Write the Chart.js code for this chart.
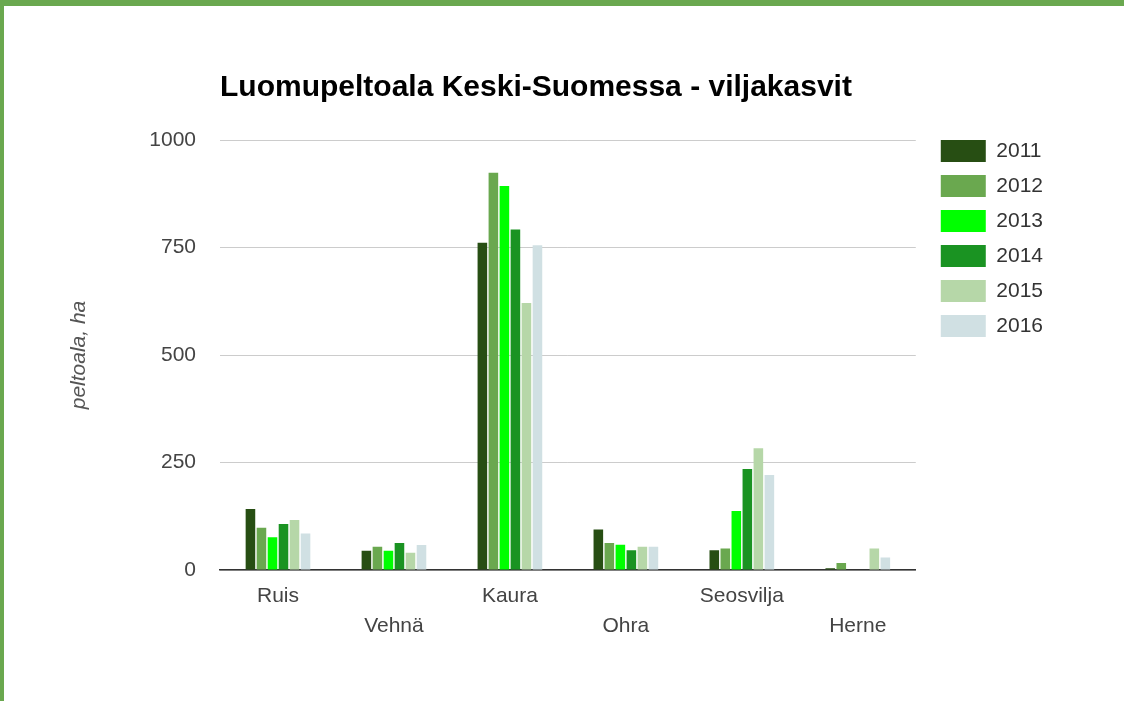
<!DOCTYPE html>
<html>
<head>
<meta charset="utf-8">
<script src="https://cdn.jsdelivr.net/npm/chart.js@4"></script>
<style>
  html, body { margin: 0; padding: 0; background: #fff; }
  #wrap { position: relative; width: 1124px; height: 701px; overflow: hidden; }
  #c { position: absolute; left: 0; top: 0; }
  #frame { position: absolute; left: 0; top: 0; width: 1124px; height: 701px; box-sizing: border-box;
           border-top: 6px solid #6aa84f; border-left: 4px solid #6aa84f; pointer-events: none; }
</style>
</head>
<body>
<div id="wrap">
  <canvas id="c" width="1124" height="701"></canvas>
  <div id="frame"></div>
</div>
<script>
const categories = ['Ruis', 'Vehnä', 'Kaura', 'Ohra', 'Seosvilja', 'Herne'];
const years = ['2011', '2012', '2013', '2014', '2015', '2016'];
const v2011 = [142, 45, 761, 94, 46, 4];
const v2012 = [98, 54, 924, 63, 50, 16];
const v2013 = [76, 45, 893, 59, 137, 0];
const v2014 = [107, 63, 792, 46, 235, 0];
const v2015 = [116, 40, 621, 54, 283, 50];
const v2016 = [85, 58, 755, 54, 221, 29];
const yTicks = [0, 250, 500, 750, 1000];
const colors = ['#274e13', '#6aa84f', '#00ff00', '#1a9322', '#b6d7a8', '#d0e0e3'];
const seriesValues = [v2011, v2012, v2013, v2014, v2015, v2016];

const FONT = "'Liberation Sans', Arial, sans-serif";

const legendShift = {
  id: 'legendShift',
  afterLayout(chart) {
    const L = chart.legend;
    if (!L) return;
    const dx = 12, dy = -13;
    L.left += dx; L.right += dx; L.top += dy; L.bottom += dy;
  }
};

new Chart(document.getElementById('c'), {
  type: 'bar',
  data: {
    labels: categories,
    datasets: years.map((y, i) => ({
      label: y,
      data: seriesValues[i],
      backgroundColor: colors[i],
      borderWidth: 0,
      categoryPercentage: 0.57,
      barPercentage: 0.87
    }))
  },
  options: {
    responsive: false,
    animation: false,
    devicePixelRatio: 1,
    layout: { padding: { left: 0, right: 83, top: 0, bottom: 0 } },
    plugins: {
      title: {
        display: true,
        text: 'Luomupeltoala Keski-Suomessa - viljakasvit',
        align: 'start',
        fullSize: false,
        color: '#000',
        font: { family: FONT, size: 30, weight: 'bold', lineHeight: 1.2 },
        padding: { top: 70, bottom: 34 }
      },
      legend: {
        display: true,
        position: 'right',
        align: 'start',
        fullSize: false,
        labels: {
          boxWidth: 45,
          boxHeight: 22,
          padding: 13,
          color: '#333',
          font: { family: FONT, size: 21 }
        }
      },
      tooltip: { enabled: false }
    },
    scales: {
      x: {
        grid: { display: false, drawTicks: false },
        border: { display: true, color: '#333', width: 1.5 },
        ticks: {
          autoSkip: false,
          maxRotation: 0,
          minRotation: 0,
          padding: 11,
          color: '#444',
          font: { family: FONT, size: 21, lineHeight: 1.43 },
          callback: function (value, index) {
            const lab = this.getLabelForValue(value);
            return index % 2 === 1 ? ['', lab] : lab;
          }
        },
        afterFit(s) { s.height = 131; }
      },
      y: {
        min: 0,
        max: 1000,
        afterBuildTicks(s) { s.ticks = yTicks.map(v => ({ value: v })); },
        grid: { color: '#cccccc', lineWidth: 1, drawTicks: false },
        border: { display: false },
        ticks: {
          padding: 24,
          color: '#444',
          font: { family: FONT, size: 21 },
          callback: (v) => String(v)
        },
        title: {
          display: true,
          text: 'peltoala, ha',
          color: '#555',
          font: { family: FONT, size: 21, style: 'italic', lineHeight: 1.2 },
          padding: { top: 67, bottom: 0 }
        },
        afterFit(s) { s.width = 220; }
      }
    }
  },
  plugins: [legendShift]
});
</script>
</body>
</html>
